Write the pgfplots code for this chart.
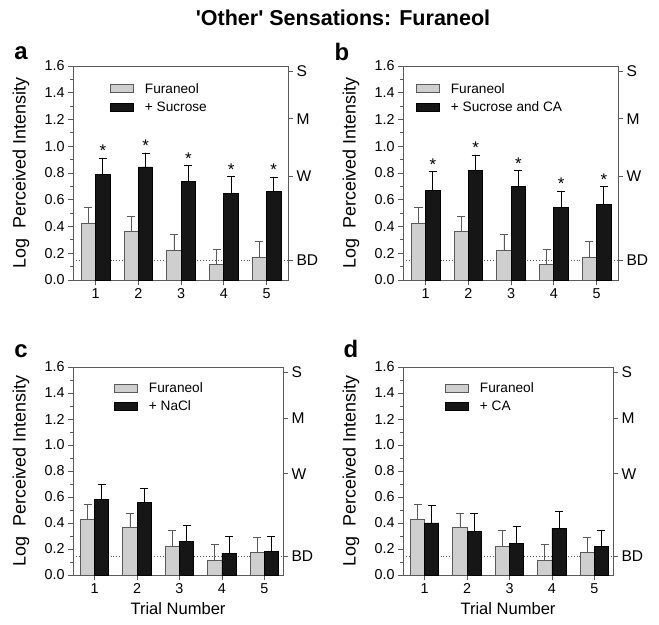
\documentclass[border=0pt]{standalone}
\usepackage{pgfplots}
\pgfplotsset{compat=1.18}
\usepackage{fontspec}
\setmainfont{Liberation Sans}
\definecolor{lgray}{HTML}{CFCFCF}
\definecolor{dblack}{HTML}{161616}
\definecolor{axgray}{HTML}{5A5A5A}

\pgfplotsset{
  panel/.style={
    scale only axis,
    anchor=south west,
    ymin=0, ymax=1.6,
    xtick={1,2,3,4,5},
    ytick={0,0.2,0.4,0.6,0.8,1.0,1.2,1.4,1.6},
    minor y tick num=1,
    xtick pos=bottom, ytick pos=left,
    tick align=outside,
    major tick length=5bp, minor tick length=3bp,
    axis line style={axgray, line width=0.8bp},
    every tick/.style={axgray, line width=0.8bp},
    tick label style={font=\fontsize{14.4}{16}\selectfont},
    /pgf/number format/assume math mode=true,
    yticklabel style={/pgf/number format/fixed, /pgf/number format/fixed zerofill, /pgf/number format/precision=1},
    every axis y label/.style={at={(rel axis cs:0,0.5)}, xshift=-52bp, rotate=90, anchor=center, font=\fontsize{18}{20}\selectfont},
    ylabel={Log\ \ Perceived Intensity},
    legend style={draw=none, fill=none, font=\fontsize{13.7}{15}\selectfont, anchor=north west, row sep=3bp, inner sep=0pt,
      /tikz/every odd column/.append style={column sep=9bp}},
    legend cell align=left,
    clip=false,
  },
  rightax/.style={
    scale only axis,
    anchor=south west,
    ymin=0, ymax=1.6,
    axis x line=none,
    axis y line*=right,
    ytick={0.145,0.778,1.205,1.56},
    yticklabels={BD,W,M,S},
    tick align=outside,
    major tick length=5bp,
    axis line style={axgray, line width=0.8bp},
    every tick/.style={axgray, line width=0.8bp},
    tick label style={font=\fontsize{15.6}{17}\selectfont},
  },
  fur/.style={ybar, bar width=0.335, bar shift=0, fill=lgray, draw=axgray, line width=0.8bp,
     legend image code/.code={\draw[#1] (0bp,-4bp) rectangle (23bp,4bp);},
     error bars/.cd, y dir=plus, y explicit, error bar style={axgray, line width=0.8bp},
     error mark=-, error mark options={rotate=90, axgray, line width=0.8bp, mark size=4bp}},
  blk/.style={ybar, bar width=0.335, bar shift=0, fill=dblack, draw=black, line width=0.8bp,
     legend image code/.code={\draw[#1] (0bp,-4bp) rectangle (23bp,4bp);},
     error bars/.cd, y dir=plus, y explicit, error bar style={black, line width=0.8bp},
     error mark=-, error mark options={rotate=90, black, line width=0.8bp, mark size=4bp}},
  bdline/.style={dotted, axgray, line width=0.9bp, forget plot},
  star/.style={only marks, mark=*, mark size=0.01pt, mark options={draw=none, fill=none}, forget plot,
     nodes near coords={*}, nodes near coords align=above,
     every node near coord/.append style={font=\fontsize{17}{17}\selectfont, inner sep=1bp, text=black}},
}

\begin{document}
\begin{tikzpicture}[x=1bp,y=1bp]
\useasboundingbox (0bp,0bp) rectangle (659bp,625bp);

\node[font=\bfseries\fontsize{21.6}{24}\selectfont] at (343bp,607bp) {\textquotesingle Other\textquotesingle{} Sensations: Furaneol};
\node[font=\bfseries\fontsize{24}{26}\selectfont] at (21bp,572bp) {a};
\node[font=\bfseries\fontsize{24}{26}\selectfont] at (342bp,573bp) {b};
\node[font=\bfseries\fontsize{24}{26}\selectfont] at (21bp,274bp) {c};
\node[font=\bfseries\fontsize{24}{26}\selectfont] at (351bp,276bp) {d};

% ---------- panel a ----------
\begin{axis}[panel, at={(73bp,345bp)}, width=215bp, height=214bp, xmin=0.47, xmax=5.5,
  legend style={at={(0.172,0.93)}}]
\addplot[bdline] coordinates {(0.47,0.145) (5.5,0.145)};
\addplot[fur] coordinates {(0.8325,0.425) +- (0,0.12) (1.8325,0.365) +- (0,0.112) (2.8325,0.22) +- (0,0.123) (3.8325,0.115) +- (0,0.117) (4.8325,0.17) +- (0,0.118)};
\addplot[blk] coordinates {(1.1675,0.79) +- (0,0.122) (2.1675,0.845) +- (0,0.105) (3.1675,0.735) +- (0,0.12) (4.1675,0.65) +- (0,0.125) (5.1675,0.66) +- (0,0.11)};
\addplot[star] coordinates {(1.1675,0.912) (2.1675,0.95) (3.1675,0.855) (4.1675,0.775) (5.1675,0.77)};
\legend{Furaneol, + Sucrose}
\end{axis}
\begin{axis}[rightax, at={(73bp,345bp)}, width=215bp, height=214bp, xmin=0.47, xmax=5.5]
\addplot[draw=none] coordinates {(1,0)};
\end{axis}

% ---------- panel b ----------
\begin{axis}[panel, at={(403bp,345bp)}, width=215bp, height=214bp, xmin=0.47, xmax=5.5,
  legend style={at={(0.06,0.93)}}]
\addplot[bdline] coordinates {(0.47,0.145) (5.5,0.145)};
\addplot[fur] coordinates {(0.8325,0.425) +- (0,0.12) (1.8325,0.365) +- (0,0.112) (2.8325,0.22) +- (0,0.123) (3.8325,0.115) +- (0,0.117) (4.8325,0.17) +- (0,0.118)};
\addplot[blk] coordinates {(1.1675,0.67) +- (0,0.14) (2.1675,0.82) +- (0,0.115) (3.1675,0.70) +- (0,0.12) (4.1675,0.54) +- (0,0.125) (5.1675,0.565) +- (0,0.135)};
\addplot[star] coordinates {(1.1675,0.81) (2.1675,0.935) (3.1675,0.82) (4.1675,0.665) (5.1675,0.70)};
\legend{Furaneol, + Sucrose and CA}
\end{axis}
\begin{axis}[rightax, at={(403bp,345bp)}, width=215bp, height=214bp, xmin=0.47, xmax=5.5]
\addplot[draw=none] coordinates {(1,0)};
\end{axis}

% ---------- panel c ----------
\begin{axis}[panel, at={(73bp,50bp)}, width=210bp, height=208bp, xmin=0.49, xmax=5.44,
  xlabel={Trial Number},
  every axis x label/.style={at={(rel axis cs:0.5,0)}, yshift=-34bp, anchor=center, font=\fontsize{16.6}{18}\selectfont},
  legend style={at={(0.195,0.935)}}]
\addplot[bdline] coordinates {(0.49,0.145) (5.44,0.145)};
\addplot[fur] coordinates {(0.8325,0.425) +- (0,0.12) (1.8325,0.365) +- (0,0.112) (2.8325,0.22) +- (0,0.123) (3.8325,0.115) +- (0,0.117) (4.8325,0.17) +- (0,0.118)};
\addplot[blk] coordinates {(1.1675,0.579) +- (0,0.116) (2.1675,0.558) +- (0,0.107) (3.1675,0.26) +- (0,0.12) (4.1675,0.168) +- (0,0.126) (5.1675,0.178) +- (0,0.116)};
\legend{Furaneol, + NaCl}
\end{axis}
\begin{axis}[rightax, at={(73bp,50bp)}, width=210bp, height=208bp, xmin=0.49, xmax=5.44]
\addplot[draw=none] coordinates {(1,0)};
\end{axis}

% ---------- panel d ----------
\begin{axis}[panel, at={(403bp,50bp)}, width=210bp, height=208bp, xmin=0.49, xmax=5.44,
  xlabel={Trial Number},
  every axis x label/.style={at={(rel axis cs:0.5,0)}, yshift=-34bp, anchor=center, font=\fontsize{16.6}{18}\selectfont},
  legend style={at={(0.2,0.935)}}]
\addplot[bdline] coordinates {(0.49,0.145) (5.44,0.145)};
\addplot[fur] coordinates {(0.8325,0.425) +- (0,0.12) (1.8325,0.365) +- (0,0.112) (2.8325,0.22) +- (0,0.123) (3.8325,0.115) +- (0,0.117) (4.8325,0.17) +- (0,0.118)};
\addplot[blk] coordinates {(1.1675,0.40) +- (0,0.133) (2.1675,0.335) +- (0,0.142) (3.1675,0.244) +- (0,0.132) (4.1675,0.36) +- (0,0.13) (5.1675,0.22) +- (0,0.125)};
\legend{Furaneol, + CA}
\end{axis}
\begin{axis}[rightax, at={(403bp,50bp)}, width=210bp, height=208bp, xmin=0.49, xmax=5.44]
\addplot[draw=none] coordinates {(1,0)};
\end{axis}
\end{tikzpicture}
\end{document}
